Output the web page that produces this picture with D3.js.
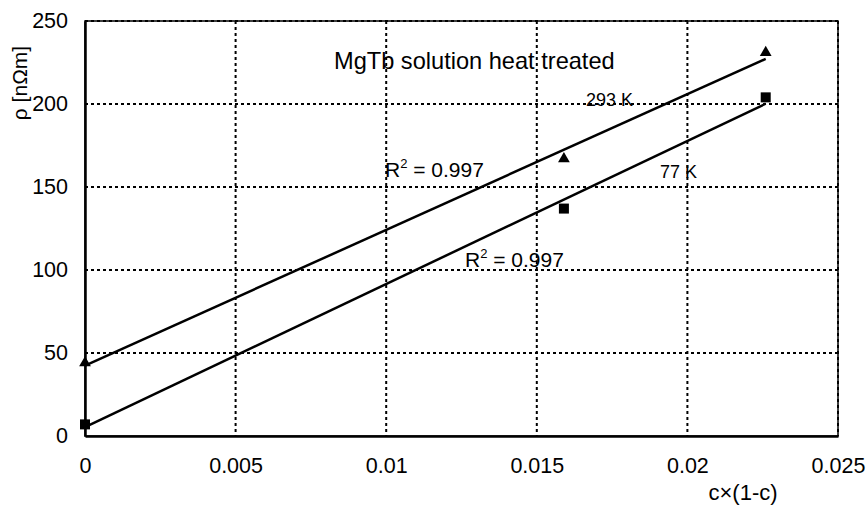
<!DOCTYPE html>
<html><head><meta charset="utf-8">
<script src="https://cdn.jsdelivr.net/npm/d3@7"></script>
<style>body{margin:0;background:#fff}svg{display:block}text{font-family:"Liberation Sans",Arial,sans-serif;fill:#000}</style>
</head><body>
<svg id="c" width="867" height="508"></svg>
<script>
const xTicks = [0, 0.005, 0.01, 0.015, 0.02, 0.025];
const xTickLabels = ["0", "0.005", "0.01", "0.015", "0.02", "0.025"];
const yTicks = [0, 50, 100, 150, 200, 250];
const conc = [0, 0.0159, 0.0226];
const rho293 = [44, 167, 231];
const rho77 = [7, 137, 204];
const seriesLabels = ["293 K", "77 K"];
const r2Labels = ["0.997", "0.997"];
const title = "MgTb solution heat treated";

const svg = d3.select("#c");
const L = 85, R = 838, T = 21, B = 436;
const x = d3.scaleLinear().domain([0, 0.025]).range([L, R]);
const y = d3.scaleLinear().domain([0, 250]).range([B, T]);

// gridlines
const g = svg.append("g");
g.selectAll(".gx").data(xTicks.slice(1)).enter().append("line")
  .attr("x1", d => x(d)).attr("x2", d => x(d)).attr("y1", T).attr("y2", B)
  .attr("stroke", "#000").attr("stroke-width", 2).attr("stroke-dasharray", "3,3");
g.selectAll(".gy").data(yTicks.slice(1)).enter().append("line")
  .attr("x1", L).attr("x2", R).attr("y1", d => y(d)).attr("y2", d => y(d))
  .attr("stroke", "#000").attr("stroke-width", 2).attr("stroke-dasharray", "3,3");

// frame
svg.append("rect").attr("x", L).attr("y", T).attr("width", R - L).attr("height", B - T)
  .attr("fill", "none").attr("stroke", "#000").attr("stroke-width", 1.5);

// axes
const xAxis = d3.axisBottom(x).tickValues(xTicks).tickFormat((d, i) => xTickLabels[i]).tickSize(0).tickPadding(22);
const ax = svg.append("g").attr("transform", `translate(0,${B})`).call(xAxis);
ax.select(".domain").attr("stroke", "#000").attr("stroke-width", 2.5);
ax.selectAll("text").attr("font-size", 21.5).attr("font-family", "Liberation Sans, Arial, sans-serif");
const yAxis = d3.axisLeft(y).tickValues(yTicks).tickSize(0).tickPadding(17);
const ay = svg.append("g").attr("transform", `translate(${L},0)`).call(yAxis);
ay.select(".domain").attr("stroke", "#000").attr("stroke-width", 2.5);
ay.selectAll("text").attr("font-size", 21.5).attr("font-family", "Liberation Sans, Arial, sans-serif");

// regression lines
function fit(xs, ys) {
  const mx = d3.mean(xs), my = d3.mean(ys);
  let sxy = 0, sxx = 0;
  xs.forEach((v, i) => { sxy += (v - mx) * (ys[i] - my); sxx += (v - mx) ** 2; });
  const b = sxy / sxx;
  return { a: my - b * mx, b };
}
[rho293, rho77].forEach(ys => {
  const f = fit(conc, ys);
  const x0 = d3.min(conc), x1 = d3.max(conc);
  svg.append("line").attr("x1", x(x0)).attr("y1", y(f.a + f.b * x0))
    .attr("x2", x(x1)).attr("y2", y(f.a + f.b * x1))
    .attr("stroke", "#000").attr("stroke-width", 2.5);
});

// markers
svg.selectAll(".tri").data(conc).enter().append("path")
  .attr("d", d3.symbol().type(d3.symbolTriangle).size(60))
  .attr("transform", (d, i) => `translate(${x(d)},${y(rho293[i])})`).attr("fill", "#000");
svg.selectAll(".sq").data(conc).enter().append("rect")
  .attr("x", d => x(d) - 5).attr("y", (d, i) => y(rho77[i]) - 5)
  .attr("width", 10).attr("height", 10).attr("fill", "#000");

// texts
svg.append("text").attr("x", 334).attr("y", 69).attr("font-size", 23.6).text(title);
svg.append("text").attr("x", 586).attr("y", 106).attr("font-size", 18).text(seriesLabels[0]);
svg.append("text").attr("x", 660).attr("y", 178).attr("font-size", 18).text(seriesLabels[1]);
function r2(xp, yp, val) {
  const t = svg.append("text").attr("x", xp).attr("y", yp).attr("font-size", 21);
  t.append("tspan").text("R");
  t.append("tspan").attr("font-size", 13).attr("dy", -9).text("2");
  t.append("tspan").attr("dy", 9).text(" = " + val);
}
r2(385, 177, r2Labels[0]);
r2(465, 267, r2Labels[1]);

svg.append("text").attr("transform", "translate(27,83) rotate(-90)").attr("text-anchor", "middle")
  .attr("font-size", 21).text("ρ [nΩm]");
svg.append("text").attr("x", 743).attr("y", 500).attr("text-anchor", "middle")
  .attr("font-size", 22).text("c×(1-c)");
</script>
</body></html>
